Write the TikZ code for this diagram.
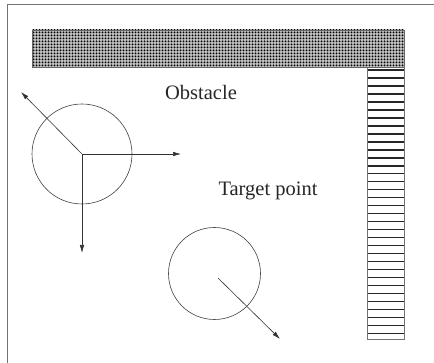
\documentclass[tikz,border=0pt]{standalone}
\usepackage{fontspec}
\setmainfont{Liberation Serif}
\usetikzlibrary{patterns,arrows.meta}
\pgfdeclarepatternformonly{mydots}{\pgfqpoint{-1.5pt}{-1.5pt}}{\pgfqpoint{2.5pt}{2.5pt}}{\pgfqpoint{3pt}{3pt}}{%
  \pgfpathcircle{\pgfqpoint{0.5pt}{0.5pt}}{1pt}\pgfusepath{fill}}
\begin{document}
\begin{tikzpicture}[x=1pt,y=-1pt,
  frameline/.style={draw=black!55,line width=1pt},
  robot/.style={circle,draw=black!75,line width=0.6pt,inner sep=0pt},
  vec/.style={draw=black!80,line width=0.6pt,-{Latex[length=8pt,width=4.5pt]}},
  lbl/.style={font=\fontsize{20.5}{24}\selectfont,text=black!85,inner sep=0pt}]
\useasboundingbox (0,0) rectangle (434,363);
\fill[white] (0,0) rectangle (434,363);
% frame
\draw[frameline] (7,363) -- (7,5) -- (434,5);
% top obstacle bar
\fill[black!25] (32,30) rectangle (404,67);
\fill[pattern=mydots,pattern color=black] (32,30) rectangle (404,67);
\draw[black!60,line width=0.5pt] (32,30) rectangle (404,67);
% right striped obstacle
\foreach \k in {0,...,33} {
  \draw[black!85,line width=1.5pt] (367,{70+\k*7.98}) -- (404,{70+\k*7.98});
}
\draw[black!55,line width=0.9pt] (367,67) -- (367,339) -- (404,339) -- (404,67);
% labels
\node[lbl] (obst) at (201,92) {Obstacle};
\node[lbl] (targ) at (268,191) {Target point};
% robot 1
\node[robot,minimum size=100pt] (r1) at (82,154) {};
\coordinate (r1right) at (181,154);
\coordinate (r1down) at (82,253);
\coordinate (r1ul) at (21,92);
\draw[vec] (r1.center) -- (r1right);
\draw[vec] (r1.center) -- (r1down);
\draw[vec] (r1.center) -- (r1ul);
% robot 2
\node[robot,minimum size=92pt] (r2) at (214.5,273.5) {};
\coordinate (r2s) at (218,278);
\coordinate (r2e) at (280,339);
\draw[vec] (r2s) -- (r2e);
\end{tikzpicture}
\end{document}
